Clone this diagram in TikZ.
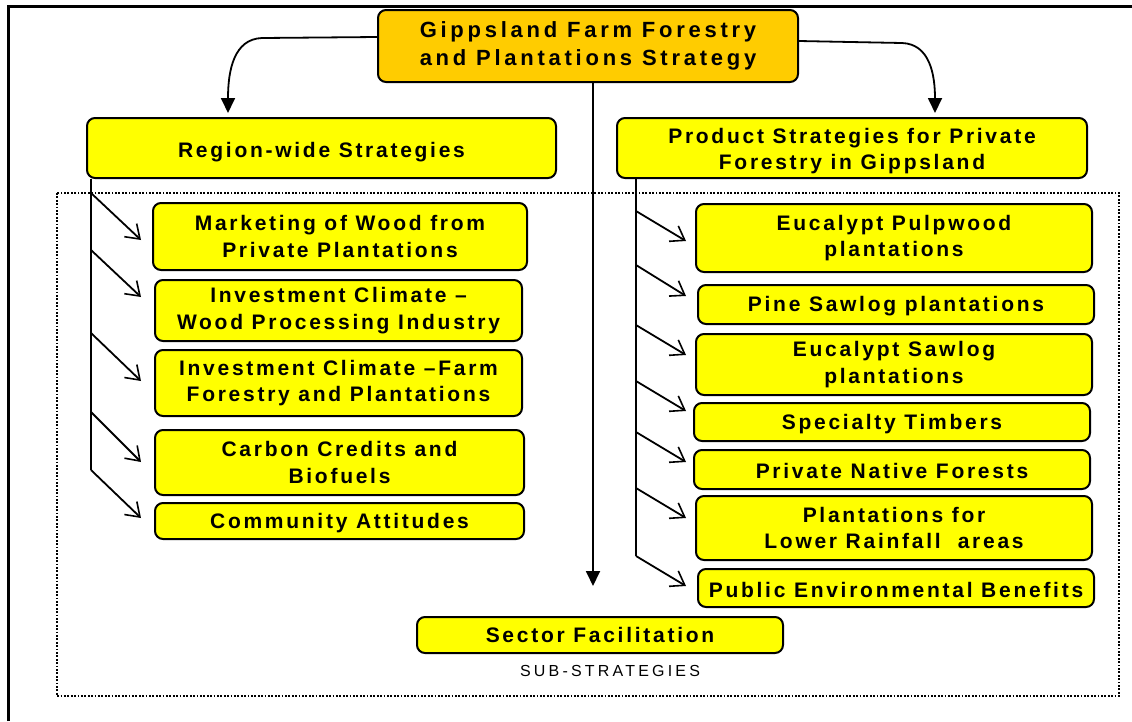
\documentclass[tikz,border=0pt]{standalone}
\usepackage{fontspec}
\setmainfont{Liberation Sans}
\newfontfamily\boxfont[LetterSpace=13]{Liberation Sans}
\newfontfamily\titlefont[LetterSpace=17]{Liberation Sans}
\newfontfamily\labelfont[LetterSpace=20]{Liberation Sans}
\usetikzlibrary{arrows.meta}
\definecolor{topfill}{HTML}{FFCC00}
\definecolor{boxfill}{HTML}{FFFF00}
% draw a text line a little lower without changing its box size
\newcommand{\down}[2]{\raisebox{-#1pt}[\height][\depth]{#2}}
\tikzset{
  box/.style={draw=black, line width=2pt, rounded corners=8pt, fill=boxfill,
    align=center, inner sep=0pt, font=\boxfont\bfseries\fontsize{21}{26.5}\selectfont},
  topbox/.style={box, fill=topfill, font=\titlefont\bfseries\fontsize{22}{28}\selectfont},
  link/.style={line width=1.8pt},
  bigtip/.style={link, -{Triangle[length=15pt,width=14pt]}},
  opentip/.style={link, -{Straight Barb[length=13pt,width=18pt,line width=1.6pt]}},
}
\begin{document}
\begin{tikzpicture}[x=1pt,y=-1pt]
\useasboundingbox (0,0) rectangle (1132,721);
% outer frame
\draw[line width=3pt] (8,721) -- (8,6) -- (1132,6);
% dotted sub-strategy frame
\draw[line width=1.8pt, dash pattern=on 1.8pt off 1.6pt] (57,193) rectangle (1119,696);

% main strategy
\node[topbox, minimum width=420pt, minimum height=72pt] (main) at (588,46)
  {Gippsland Farm Forestry\\and Plantations Strategy};

% two strategy groups
\node[box, minimum width=469pt, minimum height=60pt] (region) at (321.5,148)
  {\down{4}{Region-wide Strategies}};
\node[box, minimum width=470pt, minimum height=60pt] (product) at (852,148)
  {\down{3}{Product Strategies for Private}\\\down{3}{Forestry in Gippsland}};

% region-wide sub-strategies
\node[box, minimum width=374pt, minimum height=67pt] (l1) at (340,236.5)
  {Marketing of Wood from\\Private Plantations};
\node[box, minimum width=367pt, minimum height=61pt] (l2) at (338.5,310.5)
  {Investment Climate –\\Wood Processing Industry};
\node[box, minimum width=367pt, minimum height=66pt] (l3) at (338.5,383)
  {Investment Climate –Farm\\Forestry and Plantations};
\node[box, minimum width=369pt, minimum height=65pt] (l4) at (339.5,462.5)
  {Carbon Credits and\\Biofuels};
\node[box, minimum width=369pt, minimum height=36pt] (l5) at (339.5,521)
  {\down{2}{Community Attitudes}};

% product sub-strategies
\node[box, minimum width=396pt, minimum height=68pt] (r1) at (894,238)
  {Eucalypt Pulpwood\\plantations};
\node[box, minimum width=396pt, minimum height=39pt] (r2) at (896,304.5)
  {\down{2}{Pine Sawlog plantations}};
\node[box, minimum width=396pt, minimum height=61pt] (r3) at (894,364.5)
  {Eucalypt Sawlog\\plantations};
\node[box, minimum width=396pt, minimum height=38pt] (r4) at (892,422)
  {\down{2}{Specialty Timbers}};
\node[box, minimum width=396pt, minimum height=39pt] (r5) at (892,469.5)
  {\down{1}{Private Native Forests}};
\node[box, minimum width=396pt, minimum height=64pt] (r6) at (894,528)
  {Plantations for\\Lower Rainfall\ \ areas};
\node[box, minimum width=396pt, minimum height=38pt] (r7) at (896,588)
  {\down{2}{Public Environmental Benefits}};

\node[box, minimum width=366pt, minimum height=36pt] (sector) at (600,635)
  {Sector Facilitation};
\node[font=\labelfont\fontsize{16}{18}\selectfont] (sublabel) at (610,671) {SUB-STRATEGIES};

% links from the main strategy
\coordinate (ltip) at (228,113);
\coordinate (rtip) at (935,113);
\coordinate (ctip) at (593,586);
\draw[bigtip] ([yshift=9pt]main.west) -- (262,38) .. controls (234,39) and (228,70) .. (ltip);
\draw[bigtip] ([yshift=5pt]main.east) -- (902,43) .. controls (930,44) and (935,75) .. (rtip);
\draw[bigtip] (main.south -| ctip) -- (ctip);

% left spine and its branches
\coordinate (lbot) at (91,470);
\draw[link] (region.south -| lbot) -- (lbot);
\foreach \i/\ys/\ye in {1/193/240, 2/250/297, 3/333/381, 4/412/462, 5/470/518}{
  \coordinate (ls\i) at (91,\ys);
  \coordinate (le\i) at (141,\ye);
  \draw[opentip] (ls\i) -- (le\i);
}

% right spine and its branches
\coordinate (rbot) at (636,556);
\draw[link] (product.south -| rbot) -- (rbot);
\foreach \i/\ys/\ye in {1/211/241, 2/265/296, 3/325/355, 4/381/411, 5/432/462, 6/488/518, 7/556/586}{
  \coordinate (rs\i) at (636,\ys);
  \coordinate (re\i) at (686,\ye);
  \draw[opentip] (rs\i) -- (re\i);
}
\end{tikzpicture}
\end{document}
